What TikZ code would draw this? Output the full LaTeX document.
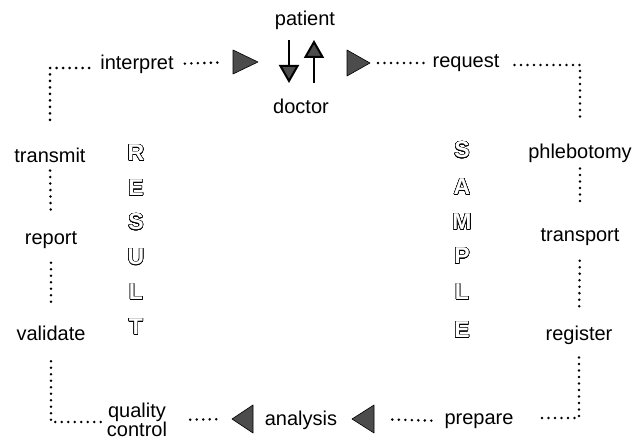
\documentclass[tikz,border=0pt]{standalone}
\usepackage{fontspec}
\setmainfont{Liberation Sans}
\usepackage[copies]{contour}
\contourlength{0.5pt}
\contournumber{24}
\usetikzlibrary{arrows.meta}
\begin{document}
\begin{tikzpicture}[x=1pt,y=-1pt,
  lbl/.style={font=\fontsize{20}{20}\selectfont, inner sep=1pt, align=center},
  dots/.style={line width=2.8pt, line cap=round, dash pattern=on 0pt off 6.5pt},
  tri/.style={fill=black!70, draw=black, line width=0.6pt, line join=round},
  big/.style={font=\fontsize{23}{23}\selectfont\bfseries, inner sep=0pt},
  ptr/.style={line width=2pt, -{Triangle[width=20pt,length=18pt,fill=black!70]}}]
\useasboundingbox (0,0) rectangle (635,441);

% labels
\node[lbl] (patient) at (305,20) {patient};
\node[lbl] (doctor) at (301,106) {doctor};
\node[lbl] (interpret) at (137,64) {interpret};
\node[lbl] (request) at (466,63) {request};
\node[lbl] (transmit) at (50,155) {transmit};
\node[lbl] (report) at (51,240) {report};
\node[lbl] (validate) at (51,333) {validate};
\node[lbl, font=\fontsize{20}{19}\selectfont] (quality) at (137,420) {quality\\control};
\node[lbl] (analysis) at (301,420) {analysis};
\node[lbl] (prepare) at (479,421) {prepare};
\node[lbl] (phlebotomy) at (580,153) {phlebotomy};
\node[lbl] (transport) at (580,237) {transport};
\node[lbl] (register) at (579,335) {register};

% outlined letters
\foreach \l/\y [count=\i] in {R/153,E/188,S/222,U/257,L/292,T/327}
  \node[big] (res\i) at (136,\y) {\contour{black}{\textcolor{white}{\l}}};
\foreach \l/\y [count=\i] in {S/150,A/187,M/222,P/256,L/292,E/330}
  \node[big] (sam\i) at (462,\y) {\contour{black}{\textcolor{white}{\l}}};

% triangles
\draw[tri] (233,50) -- (258,62) -- (233,74) -- cycle;
\coordinate (triA) at (233,62);
\draw[tri] (347,50) -- (370,63) -- (347,76) -- cycle;
\coordinate (triB) at (370,63);
\draw[tri] (232,419) -- (253,405) -- (253,433) -- cycle;
\coordinate (triC) at (232,419);
\draw[tri] (352,419) -- (374,405) -- (374,433) -- cycle;
\coordinate (triD) at (374,419);

% patient / doctor arrows
\coordinate (a1s) at (289,40);
\coordinate (a1e) at (289,83);
\coordinate (a2s) at (314,83);
\coordinate (a2e) at (314,40);
\draw[ptr] (a1s) -- (a1e);
\draw[ptr] (a2s) -- (a2e);

% dotted connectors
\draw[dots] ([xshift=-10pt,yshift=-4pt]interpret.west) -| ([yshift=22pt]transmit.north);
\draw[dots, shorten <=10pt, shorten >=14pt] (interpret.east) -- (triA);
\draw[dots, shorten <=8pt, shorten >=6pt] (triB) -- (request.west);
\draw[dots] ([xshift=14pt,yshift=-2pt]request.east) -| ([yshift=22pt]phlebotomy.north);
\draw[dots, shorten <=5pt, shorten >=22pt] (phlebotomy.south) -- (transport.north);
\draw[dots, shorten <=14pt, shorten >=18pt] (transport.south) -- (register.north);
\draw[dots] ([yshift=-12pt]register.south) |- ([xshift=22pt,yshift=3pt]prepare.east);
\draw[dots, shorten <=12pt, shorten >=18pt] (prepare.west) -- (triD);
\draw[dots, shorten <=22pt, shorten >=14pt] (quality.east) -- (triC);
\draw[dots] ([xshift=-5pt,yshift=-2pt]quality.west) -| ([yshift=-17pt]validate.south);
\draw[dots, shorten <=13pt, shorten >=20pt] (report.south) -- (validate.north);
\draw[dots, shorten <=7pt, shorten >=18pt] (transmit.south) -- (report.north);
\end{tikzpicture}
\end{document}
